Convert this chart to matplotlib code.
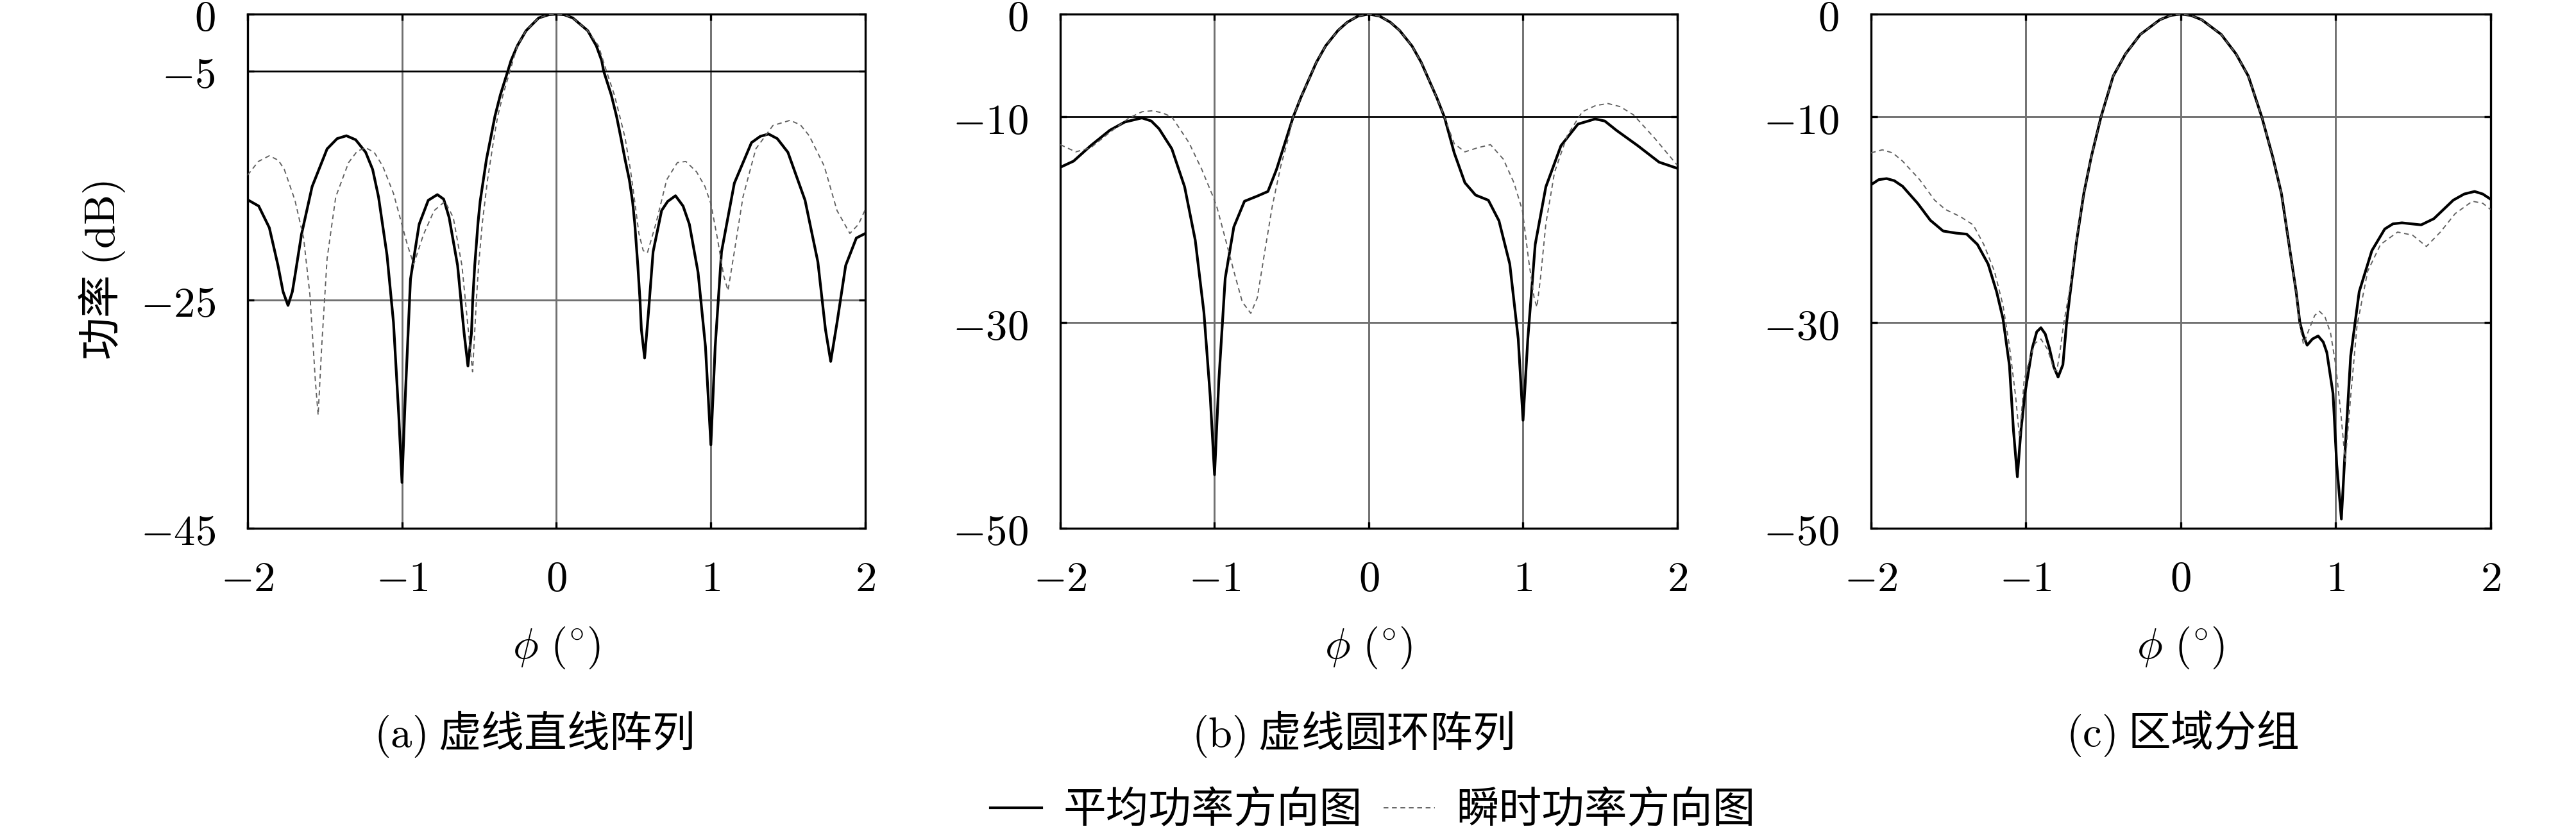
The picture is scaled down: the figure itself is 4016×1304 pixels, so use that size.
import matplotlib
matplotlib.use("Agg")

import matplotlib.pyplot as plt
from matplotlib.lines import Line2D

plt.rcParams["font.family"] = ["Noto Sans CJK SC", "DejaVu Sans"]
plt.rcParams["mathtext.fontset"] = "cm"

# (phi, dB) pairs

# (a) 虚线直线阵列
a_avg = [(-2.0, -16.25), (-1.928, -16.8), (-1.859, -18.7), (-1.803, -22.0), (-1.77, -24.3),
         (-1.738, -25.5), (-1.71, -24.3), (-1.693, -22.9), (-1.651, -19.3), (-1.582, -15.1),
         (-1.485, -11.8), (-1.42, -10.9), (-1.36, -10.65), (-1.30, -11.0), (-1.235, -12.1),
         (-1.19, -13.6), (-1.152, -16.0), (-1.097, -21.1), (-1.055, -27.0), (-1.021, -35.1),
         (-1.0, -41.0), (-0.979, -33.6), (-0.945, -23.2), (-0.889, -18.4), (-0.83, -16.3),
         (-0.771, -15.8), (-0.73, -16.2), (-0.695, -17.8), (-0.640, -22.0), (-0.598, -27.9),
         (-0.573, -30.8), (-0.55, -27.9), (-0.542, -25.0), (-0.529, -22.0), (-0.508, -18.3),
         (-0.494, -16.4), (-0.473, -14.5), (-0.453, -12.7), (-0.425, -10.8), (-0.398, -8.93),
         (-0.363, -7.07), (-0.315, -5.0), (-0.294, -4.07), (-0.253, -2.77), (-0.197, -1.46),
         (-0.115, -0.34), (-0.05, -0.06), (0.0, 0.0), (0.05, -0.06), (0.106, -0.34),
         (0.203, -1.46), (0.258, -2.77), (0.293, -4.07), (0.306, -5.0), (0.355, -7.07),
         (0.389, -8.93), (0.417, -10.8), (0.444, -12.7), (0.472, -14.5), (0.493, -16.4),
         (0.507, -18.3), (0.527, -22.0), (0.541, -25.0), (0.55, -27.6), (0.571, -30.1),
         (0.596, -26.1), (0.626, -20.8), (0.681, -17.2), (0.72, -16.4), (0.771, -15.9),
         (0.82, -16.8), (0.861, -18.4), (0.917, -22.6), (0.965, -29.1), (1.0, -37.7),
         (1.028, -29.1), (1.069, -20.8), (1.152, -14.8), (1.263, -11.25), (1.32, -10.7),
         (1.374, -10.5), (1.43, -10.9), (1.499, -12.1), (1.61, -16.3), (1.693, -21.7),
         (1.742, -27.6), (1.776, -30.4), (1.817, -27.0), (1.873, -22.0), (1.942, -19.6),
         (2.0, -19.2)]
a_inst = [(-2.0, -14.1), (-1.93, -12.9), (-1.859, -12.4), (-1.80, -12.8), (-1.762, -13.6),
          (-1.693, -16.3), (-1.637, -19.6), (-1.596, -24.6), (-1.561, -32.1), (-1.543, -35.1),
          (-1.52, -29.1), (-1.485, -21.4), (-1.429, -16.0), (-1.346, -13.0), (-1.29, -12.0),
          (-1.235, -11.7), (-1.18, -12.1), (-1.125, -13.3), (-1.055, -15.7), (-1.007, -18.1),
          (-0.965, -20.2), (-0.924, -21.9), (-0.861, -19.3), (-0.792, -17.2), (-0.722, -16.4),
          (-0.668, -17.8), (-0.612, -22.0), (-0.571, -27.6), (-0.543, -31.3), (-0.518, -25.0),
          (-0.504, -22.0), (-0.480, -18.3), (-0.446, -14.5), (-0.404, -10.8), (-0.380, -8.93),
          (-0.346, -7.07), (-0.301, -5.0), (-0.253, -2.77), (-0.197, -1.46), (-0.115, -0.34),
          (-0.05, -0.06), (0.0, 0.0), (0.05, -0.06), (0.106, -0.34), (0.203, -1.46),
          (0.272, -2.77), (0.324, -5.0), (0.375, -7.07), (0.41, -8.93), (0.444, -10.8),
          (0.479, -13.6), (0.507, -16.4), (0.534, -19.2), (0.562, -20.7), (0.589, -20.9),
          (0.645, -18.3), (0.714, -14.5), (0.783, -13.0), (0.838, -12.9), (0.907, -13.8),
          (0.962, -15.1), (1.0, -16.6), (1.042, -19.6), (1.083, -22.9), (1.111, -24.2),
          (1.152, -20.8), (1.208, -16.0), (1.291, -11.8), (1.402, -9.75), (1.513, -9.3),
          (1.58, -9.7), (1.637, -10.65), (1.734, -13.3), (1.817, -17.2), (1.9, -19.2),
          (1.956, -18.4), (2.0, -17.1)]

# (b) 虚线圆环阵列
b_avg = [(-2.0, -14.9), (-1.914, -14.3), (-1.803, -12.8), (-1.679, -11.3), (-1.582, -10.5),
         (-1.471, -10.1), (-1.41, -10.4), (-1.36, -11.15), (-1.277, -13.1), (-1.194, -16.8),
         (-1.125, -22.0), (-1.069, -29.0), (-1.028, -37.2), (-1.0, -44.8), (-0.972, -35.6),
         (-0.931, -25.7), (-0.875, -20.7), (-0.806, -18.2), (-0.723, -17.7), (-0.654, -17.25),
         (-0.598, -15.1), (-0.543, -12.5), (-0.49, -10.0), (-0.44, -8.1), (-0.39, -6.4),
         (-0.34, -4.7), (-0.28, -3.1), (-0.2, -1.6), (-0.14, -0.8), (-0.07, -0.2),
         (0.0, 0.0), (0.07, -0.2), (0.14, -0.8), (0.2, -1.6), (0.28, -3.1),
         (0.34, -4.7), (0.39, -6.4), (0.44, -8.1), (0.49, -10.0), (0.554, -13.5),
         (0.623, -16.4), (0.692, -17.6), (0.775, -18.1), (0.844, -20.1), (0.914, -24.3),
         (0.969, -31.6), (1.0, -39.5), (1.031, -31.6), (1.079, -22.4), (1.148, -16.8),
         (1.246, -12.8), (1.356, -10.7), (1.467, -10.2), (1.53, -10.4), (1.605, -11.3),
         (1.744, -12.8), (1.882, -14.4), (2.0, -15.0)]
b_inst = [(-2.0, -12.7), (-1.9, -13.4), (-1.803, -13.0), (-1.679, -11.5), (-1.554, -10.1),
          (-1.47, -9.5), (-1.402, -9.4), (-1.34, -9.6), (-1.277, -10.0), (-1.166, -12.5),
          (-1.083, -15.1), (-1.014, -17.6), (-0.986, -18.7), (-0.945, -21.0), (-0.875, -25.0),
          (-0.82, -28.0), (-0.765, -29.1), (-0.723, -27.6), (-0.681, -23.7), (-0.626, -18.7),
          (-0.571, -14.8), (-0.529, -12.5), (-0.49, -10.0), (-0.44, -8.1), (-0.39, -6.4),
          (-0.34, -4.7), (-0.28, -3.1), (-0.2, -1.6), (-0.14, -0.8), (-0.07, -0.2),
          (0.0, 0.0), (0.07, -0.2), (0.14, -0.8), (0.2, -1.6), (0.28, -3.1),
          (0.34, -4.7), (0.39, -6.4), (0.44, -8.1), (0.49, -10.0), (0.554, -12.6),
          (0.623, -13.4), (0.706, -13.0), (0.789, -12.7), (0.872, -14.1), (0.941, -16.4),
          (0.996, -19.1), (1.037, -24.0), (1.072, -27.6), (1.09, -28.5), (1.113, -25.7),
          (1.148, -20.4), (1.204, -15.4), (1.287, -11.8), (1.384, -9.5), (1.47, -8.9),
          (1.55, -8.7), (1.63, -9.0), (1.716, -9.8), (1.855, -12.1), (2.0, -14.7)]

# (c) 区域分组
c_avg = [(-2.0, -16.6), (-1.95, -16.1), (-1.899, -16.0), (-1.85, -16.2), (-1.796, -16.75),
         (-1.699, -18.4), (-1.617, -20.05), (-1.534, -21.1), (-1.451, -21.3), (-1.382, -21.4),
         (-1.313, -22.4), (-1.244, -24.3), (-1.189, -27.0), (-1.148, -29.6), (-1.106, -34.2),
         (-1.08, -40.5), (-1.055, -45.0), (-1.032, -40.5), (-1.006, -36.9), (-0.959, -32.5),
         (-0.93, -30.9), (-0.903, -30.5), (-0.875, -31.1), (-0.848, -32.5), (-0.82, -34.3),
         (-0.792, -35.3), (-0.761, -34.1), (-0.737, -30.0), (-0.713, -27.0), (-0.674, -22.2),
         (-0.626, -17.45), (-0.578, -13.9), (-0.515, -10.0), (-0.436, -6.02), (-0.357, -3.88),
         (-0.261, -1.98), (-0.135, -0.55), (-0.065, -0.13), (0.0, 0.0), (0.065, -0.13),
         (0.135, -0.55), (0.261, -1.98), (0.357, -3.88), (0.436, -6.02), (0.523, -10.0),
         (0.594, -13.9), (0.650, -17.45), (0.697, -22.2), (0.745, -27.0), (0.769, -30.0),
         (0.792, -31.3), (0.816, -32.2), (0.85, -31.6), (0.887, -31.3), (0.92, -31.9),
         (0.943, -32.9), (0.983, -36.9), (1.007, -43.8), (1.037, -49.1), (1.062, -42.2),
         (1.097, -33.25), (1.152, -27.0), (1.234, -23.0), (1.317, -20.9), (1.37, -20.4),
         (1.428, -20.3), (1.49, -20.4), (1.552, -20.5), (1.634, -19.9), (1.759, -18.1),
         (1.83, -17.5), (1.897, -17.25), (1.95, -17.5), (2.0, -18.0)]
c_inst = [(-2.0, -13.5), (-1.927, -13.2), (-1.86, -13.5), (-1.796, -14.3), (-1.686, -16.1),
          (-1.589, -18.1), (-1.52, -19.0), (-1.423, -19.7), (-1.34, -20.5), (-1.272, -22.4),
          (-1.203, -25.0), (-1.148, -28.3), (-1.106, -32.3), (-1.066, -37.2), (-1.041, -41.2),
          (-1.011, -35.6), (-0.975, -33.5), (-0.94, -32.0), (-0.903, -31.6), (-0.86, -32.6),
          (-0.818, -34.6), (-0.80, -34.7), (-0.777, -32.5), (-0.755, -30.0), (-0.737, -28.5),
          (-0.713, -26.5), (-0.674, -22.0), (-0.626, -17.45), (-0.578, -13.9), (-0.515, -10.0),
          (-0.436, -6.02), (-0.357, -3.88), (-0.261, -1.98), (-0.135, -0.55), (-0.065, -0.13),
          (0.0, 0.0), (0.065, -0.13), (0.135, -0.55), (0.261, -1.98), (0.357, -3.88),
          (0.436, -6.02), (0.523, -10.0), (0.594, -13.9), (0.650, -17.45), (0.697, -22.2),
          (0.745, -27.0), (0.769, -30.3), (0.792, -32.1), (0.83, -30.6), (0.865, -29.3),
          (0.895, -28.9), (0.93, -29.4), (0.967, -31.0), (1.0, -34.1), (1.034, -38.9),
          (1.062, -43.5), (1.097, -37.2), (1.138, -30.3), (1.207, -25.0), (1.29, -22.4),
          (1.4, -21.2), (1.497, -21.5), (1.586, -22.6), (1.676, -21.2), (1.772, -19.4),
          (1.883, -18.2), (1.95, -18.4), (2.0, -19.0)]

x_ticks = [-2, -1, 0, 1, 2]
a_ticks = [0, -5, -25, -45]
bc_ticks = [0, -10, -30, -50]

captions = ["虚线直线阵列", "虚线圆环阵列", "区域分组"]
legend_labels = ["平均功率方向图", "瞬时功率方向图"]

fig = plt.figure(figsize=(13.387, 4.347), dpi=300)

panels = [
    ([0.0961, 0.3681, 0.2398, 0.6150], a_avg, a_inst, a_ticks, -5),
    ([0.4116, 0.3681, 0.2395, 0.6150], b_avg, b_inst, bc_ticks, -10),
    ([0.7263, 0.3681, 0.2405, 0.6150], c_avg, c_inst, bc_ticks, None),
]

for rect, avg, inst, yt, ref in panels:

    ax = fig.add_axes(rect)

    ax.set_axisbelow(True)
    ax.grid(color="#707070", linewidth=0.7)

    if ref is not None:
        ax.axhline(ref, color="black", linewidth=0.6, zorder=1.5)

    avg_x, avg_db = zip(*avg)
    inst_x, inst_db = zip(*inst)

    ax.plot(avg_x, avg_db, color="black", linewidth=1.0, zorder=3)
    ax.plot(inst_x, inst_db, color="#606060", linewidth=0.45, dashes=(4, 3), zorder=4)

    ax.set_xlim(-2, 2)
    ax.set_ylim(yt[-1], 0)

    ax.set_xticks(x_ticks)
    ax.set_xticklabels([f"${v}$" for v in x_ticks])
    ax.set_yticks(yt)
    ax.set_yticklabels([f"${v}$" for v in yt])

    ax.tick_params(direction="in", length=2.4, width=0.8, top=True, right=True,
                   labelsize=16)
    ax.tick_params(axis="x", pad=11)
    ax.tick_params(axis="y", pad=12)

    for sp in ax.spines.values():
        sp.set_linewidth(0.8)

    ax.set_xlabel(r"$\phi\ (^{\circ})$", fontsize=16, labelpad=9)

fig.text(0.0395, 0.676, r"功率 $\mathrm{(dB)}$", rotation=90,
         ha="center", va="center", fontsize=16)

cap_x = [0.207, 0.525, 0.847]
for tag, cap, cx in zip("abc", captions, cap_x):
    fig.text(cx, 0.122, rf"$\mathrm{{({tag})}}$ {cap}",
             ha="center", va="center", fontsize=16)

handles = [
    Line2D([], [], color="black", linewidth=1.0),
    Line2D([], [], color="#606060", linewidth=0.45, dashes=(4, 3)),
]
fig.legend(handles, legend_labels, loc="center", bbox_to_anchor=(0.533, 0.03),
           ncol=2, frameon=False, fontsize=16, handlelength=1.2,
           handletextpad=0.5, columnspacing=0.5)

fig.savefig("out.png", dpi=300)
